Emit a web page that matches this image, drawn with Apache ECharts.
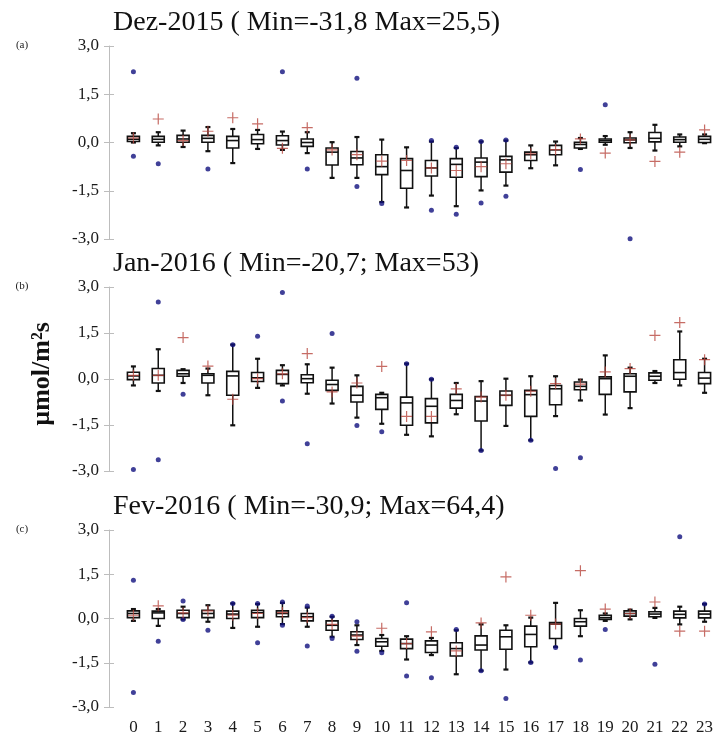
<!DOCTYPE html>
<html><head><meta charset="utf-8">
<script src="https://cdn.jsdelivr.net/npm/echarts@6/dist/echarts.min.js"></script>
<style>html,body{margin:0;padding:0;background:#fff}#c{width:718px;height:738px}</style>
</head><body><div id="c"></div>
<script>
const hours = ['0','1','2','3','4','5','6','7','8','9','10','11','12','13','14','15','16','17','18','19','20','21','22','23'];
const panelTitles = ['Dez-2015 ( Min=-31,8 Max=25,5)', 'Jan-2016 ( Min=-20,7; Max=53)', 'Fev-2016 ( Min=-30,9; Max=64,4)'];
const panelTags = ['(a)', '(b)', '(c)'];
const yAxisTitle = 'µmol/m²s';

// Panel (a) Dez-2015
const aLow  = [0.00,-0.09,-0.14,-0.27,-0.64,-0.20,-0.23,-0.33,-1.10,-1.10,-1.85,-2.02,-1.65,-1.98,-1.49,-1.34,-0.80,-0.71,-0.20,-0.07,-0.17,-0.25,-0.12,-0.02];
const aQ1   = [0.03,0.01,0.01,0.01,-0.17,-0.04,-0.08,-0.12,-0.70,-0.69,-1.00,-1.42,-1.04,-1.08,-1.06,-0.92,-0.56,-0.38,-0.17,0.01,-0.01,0.02,0.01,0.00];
const aMed  = [0.10,0.10,0.11,0.13,0.06,0.09,0.06,0.00,-0.30,-0.48,-0.75,-0.87,-0.79,-0.68,-0.61,-0.54,-0.38,-0.23,-0.06,0.06,0.08,0.13,0.09,0.10];
const aQ3   = [0.19,0.19,0.22,0.22,0.19,0.25,0.21,0.11,-0.17,-0.28,-0.38,-0.50,-0.56,-0.50,-0.48,-0.43,-0.30,-0.09,0.01,0.11,0.14,0.31,0.17,0.19];
const aHigh = [0.29,0.32,0.37,0.48,0.42,0.39,0.34,0.32,0.01,0.17,0.09,-0.15,0.03,-0.17,0.03,0.06,-0.09,0.03,0.14,0.20,0.32,0.55,0.25,0.25];
const aMean = [0.14,0.73,0.06,0.35,0.77,0.58,-0.18,0.46,-0.23,-0.38,-0.58,-0.56,-0.79,-0.87,-0.75,-0.66,-0.35,-0.22,0.11,-0.33,0.08,-0.59,-0.30,0.39];
const aOutHi = [2.20,null,null,null,null,null,2.20,null,null,2.00,null,null,0.06,-0.15,0.03,0.08,null,null,null,1.17,null,null,null,null];
const aOutLo = [-0.43,-0.66,null,-0.82,null,null,null,-0.82,null,-1.37,-1.90,null,-2.11,-2.23,-1.88,-1.67,null,null,-0.84,null,-2.99,null,null,null];

// Panel (b) Jan-2016
const bLow  = [-0.21,-0.39,-0.13,-0.53,-1.51,-0.29,-0.21,-0.48,-0.80,-1.26,-1.46,-1.82,-1.87,-1.15,-2.33,-1.53,-2.00,-1.21,-0.70,-1.16,-0.95,-0.13,-0.21,-0.45];
const bQ1   = [-0.02,-0.13,0.09,-0.13,-0.53,-0.08,-0.15,-0.12,-0.37,-0.75,-0.99,-1.51,-1.43,-0.95,-1.37,-0.86,-1.22,-0.84,-0.35,-0.50,-0.42,-0.04,-0.01,-0.15];
const bMed  = [0.10,0.12,0.17,0.12,0.10,0.04,0.15,0.01,-0.18,-0.53,-0.61,-0.78,-0.89,-0.70,-0.72,-0.53,-0.51,-0.32,-0.24,0.01,0.09,0.09,0.21,0.03];
const bQ3   = [0.22,0.34,0.28,0.17,0.25,0.21,0.28,0.14,-0.04,-0.24,-0.50,-0.59,-0.64,-0.50,-0.57,-0.39,-0.37,-0.21,-0.10,0.07,0.17,0.20,0.63,0.21];
const bHigh = [0.41,0.97,0.32,0.34,1.12,0.66,0.45,0.48,0.37,0.12,-0.45,0.50,-0.01,-0.13,-0.07,0.01,0.09,0.09,-0.02,0.77,0.37,0.26,1.55,0.66];
const bMean = [0.12,0.12,1.35,0.42,-0.66,0.01,0.17,0.83,-0.42,-0.13,0.41,-1.22,-1.22,-0.32,-0.59,-0.53,-0.40,-0.15,-0.17,0.23,0.34,1.42,1.84,0.63];
const bOutHi = [null,2.51,null,null,1.12,1.39,2.82,null,1.48,null,null,0.50,-0.01,null,null,null,null,null,null,null,null,null,null,null];
const bOutLo = [-2.95,-2.63,-0.50,null,null,null,-0.72,-2.11,null,-1.52,-1.72,null,null,null,-2.33,null,-2.00,-2.92,-2.57,null,null,null,null,null];

// Panel (c) Fev-2016
const cLow  = [-0.08,-0.25,-0.03,-0.11,-0.32,-0.28,-0.19,-0.28,-0.62,-0.90,-1.10,-1.39,-1.24,-1.89,-1.77,-1.73,-1.49,-0.96,-0.60,-0.08,-0.03,0.02,-0.20,-0.11];
const cQ1   = [0.03,0.00,0.03,0.03,0.00,0.03,0.06,-0.08,-0.40,-0.71,-0.94,-1.02,-1.15,-1.27,-1.07,-1.04,-0.96,-0.68,-0.26,-0.03,0.08,0.06,0.02,0.02];
const cMed  = [0.17,0.19,0.17,0.17,0.15,0.20,0.17,0.06,-0.23,-0.56,-0.79,-0.85,-0.90,-1.02,-0.90,-0.62,-0.54,-0.19,-0.11,0.03,0.17,0.15,0.14,0.15];
const cQ3   = [0.26,0.25,0.28,0.28,0.25,0.28,0.26,0.17,-0.08,-0.45,-0.68,-0.70,-0.76,-0.82,-0.59,-0.40,-0.26,-0.14,0.00,0.11,0.26,0.23,0.25,0.25];
const cHigh = [0.32,0.32,0.40,0.45,0.51,0.49,0.53,0.37,0.06,-0.23,-0.56,-0.60,-0.66,-0.40,-0.20,-0.23,0.03,0.53,0.28,0.17,0.30,0.36,0.40,0.49];
const cMean = [0.11,0.43,0.19,0.26,0.11,0.17,0.20,0.03,-0.20,-0.60,-0.33,-0.85,-0.45,-1.10,-0.15,1.41,0.11,-0.19,1.62,0.32,0.17,0.56,-0.43,-0.43];
const cOutHi = [1.30,null,0.59,null,0.51,0.51,0.56,0.42,0.08,-0.11,null,0.53,null,-0.37,null,null,null,null,null,null,null,null,2.77,0.49];
const cOutLo = [-2.51,-0.77,-0.03,-0.40,null,-0.82,-0.23,-0.93,-0.68,-1.11,-1.16,-1.95,-2.01,null,-1.77,-2.71,-1.49,-0.98,-1.41,-0.37,null,-1.55,null,null];

const panels = [
  {low:aLow,q1:aQ1,med:aMed,q3:aQ3,high:aHigh,mean:aMean,hi:aOutHi,lo:aOutLo},
  {low:bLow,q1:bQ1,med:bMed,q3:bQ3,high:bHigh,mean:bMean,hi:bOutHi,lo:bOutLo},
  {low:cLow,q1:cQ1,med:cMed,q3:cQ3,high:cHigh,mean:cMean,hi:cOutHi,lo:cOutLo}
];

const FONT = "'Liberation Serif','Times New Roman',serif";
const gridPos = [{top:46,height:193},{top:287,height:184},{top:530,height:177}];
const axisGray = '#bdbdbd';
const BLUE = '#10107e';
const RED = '#b8473f';
const PLUS = 'path://M4.45 0h1.1v10h-1.1z M0 4.45h10v1.1h-10z';

function renderBox(params, api) {
  const i = api.value(0);
  const lo = api.coord([i, api.value(1)]);
  const q1 = api.coord([i, api.value(2)]);
  const md = api.coord([i, api.value(3)]);
  const q3 = api.coord([i, api.value(4)]);
  const hi = api.coord([i, api.value(5)]);
  const x = lo[0], hw = 6, cw = 2.5;
  const ls = {stroke:'#111', lineWidth:1.5};
  const cs = {stroke:'#111', lineWidth:2.2};
  return {type:'group', children:[
    {type:'line', shape:{x1:x,y1:hi[1],x2:x,y2:q3[1]}, style:ls},
    {type:'line', shape:{x1:x,y1:q1[1],x2:x,y2:lo[1]}, style:ls},
    {type:'line', shape:{x1:x-cw,y1:hi[1],x2:x+cw,y2:hi[1]}, style:cs},
    {type:'line', shape:{x1:x-cw,y1:lo[1],x2:x+cw,y2:lo[1]}, style:cs},
    {type:'rect', shape:{x:x-hw,y:q3[1],width:2*hw,height:Math.max(q1[1]-q3[1],1)}, style:{fill:'#fff',stroke:'#111',lineWidth:1.6}},
    {type:'line', shape:{x1:x-hw,y1:md[1],x2:x+hw,y2:md[1]}, style:{stroke:'#111',lineWidth:1.6}}
  ]};
}

const grids = [], xAxes = [], yAxes = [], series = [], graphics = [];
panels.forEach((p, k) => {
  grids.push({left:121, right:1, top:gridPos[k].top, height:gridPos[k].height});
  xAxes.push({type:'category', gridIndex:k, data:hours, boundaryGap:true,
    axisLine:{show:false}, axisTick:{show:false}, splitLine:{show:false},
    axisLabel:{show:k===2, interval:0, margin:12, color:'#1a1a1a', fontFamily:FONT, fontSize:17}});
  yAxes.push({type:'value', gridIndex:k, min:-3, max:3, interval:1.5, position:'left', offset:12,
    axisLine:{show:true, lineStyle:{color:axisGray, width:1}},
    axisTick:{show:true, length:5, lineStyle:{color:axisGray}},
    splitLine:{show:false},
    axisLabel:{margin:10, color:'#1a1a1a', fontFamily:FONT, fontSize:17,
      formatter:v => v.toFixed(1).replace('.', ',')}});
  yAxes.push({type:'value', gridIndex:k, min:-3, max:3, interval:1.5, position:'left', offset:12,
    axisLine:{show:false}, axisTick:{show:true, inside:true, length:5, lineStyle:{color:axisGray}},
    splitLine:{show:false}, axisLabel:{show:false}});
  series.push({type:'custom', xAxisIndex:k, yAxisIndex:2*k, renderItem:renderBox,
    encode:{x:0, y:[1,2,3,4,5]},
    data:hours.map((h,i)=>[i, p.low[i], p.q1[i], p.med[i], p.q3[i], p.high[i]]), z:2});
  const outs = [];
  hours.forEach((h,i)=>{ if (p.hi[i]!=null) outs.push([i,p.hi[i]]); if (p.lo[i]!=null) outs.push([i,p.lo[i]]); });
  series.push({type:'scatter', xAxisIndex:k, yAxisIndex:2*k, symbol:'circle', symbolSize:5,
    itemStyle:{color:BLUE}, data:outs, z:4});
  series.push({type:'scatter', xAxisIndex:k, yAxisIndex:2*k, symbol:PLUS, symbolSize:11,
    itemStyle:{color:RED}, data:hours.map((h,i)=>[i, p.mean[i]]), z:5});
  graphics.push({type:'text', x:113, y:gridPos[k].top - 23, style:{text:panelTitles[k], font:'28px ' + FONT, fill:'#111', align:'left', verticalAlign:'middle'}});
  graphics.push({type:'text', x:22, y:gridPos[k].top - 1, style:{text:panelTags[k], font:'11px ' + FONT, fill:'#222', align:'center', verticalAlign:'middle'}});
});
graphics.push({type:'text', x:42, y:374, rotation:Math.PI/2, style:{text:yAxisTitle, font:'bold 26px ' + FONT, fill:'#111', align:'center', verticalAlign:'middle'}});

const chart = echarts.init(document.getElementById('c'), null, {renderer:'canvas'});
chart.setOption({animation:false, backgroundColor:'#fff', grid:grids, xAxis:xAxes, yAxis:yAxes, series:series, graphic:graphics});
</script>
</body></html>
